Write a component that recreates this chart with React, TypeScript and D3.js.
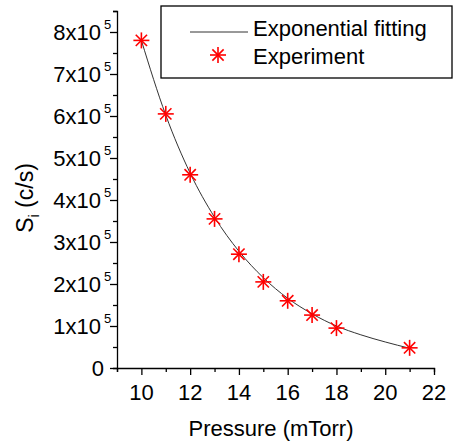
import { useEffect, useRef } from "react";
import * as d3 from "d3";

// measured points (pressure in mTorr, signal in c/s)
const pressure = [10, 11, 12, 13, 14, 15, 16, 17, 18, 21];
const signal = [7.8e5, 6.05e5, 4.6e5, 3.55e5, 2.71e5, 2.05e5, 1.6e5, 1.26e5, 0.95e5, 0.48e5];

// exponential fit
const fitX = [10, 11, 12, 13, 14, 15, 16, 17, 18, 19, 20, 21];
const fitY = [7.8e5, 6.02e5, 4.64e5, 3.59e5, 2.78e5, 2.15e5, 1.66e5, 1.29e5, 1.0e5, 0.79e5, 0.62e5, 0.47e5];

const xTicks = [10, 12, 14, 16, 18, 20, 22];
const yTicks = [0, 1, 2, 3, 4, 5, 6, 7, 8];

const W = 456;
const H = 442;
const FONT = "Liberation Sans, Arial, sans-serif";

export default function App() {
  const ref = useRef<SVGSVGElement>(null);

  useEffect(() => {
    const svg = d3.select(ref.current);
    svg.selectAll("*").remove();

    const left = 117;
    const right = 434;
    const top = 11;
    const bottom = 368;

    const x = d3.scaleLinear().domain([9, 22]).range([left, right]);
    const y = d3.scaleLinear().domain([0, 8.5e5]).range([bottom, top]);

    const g = svg.append("g").style("font-family", FONT);

    // x axis
    const xAxis = d3
      .axisBottom(x)
      .tickValues(d3.range(9, 22.01, 1))
      .tickSize(4)
      .tickFormat(() => "");
    const gx = g.append("g").attr("transform", `translate(0,${bottom})`).call(xAxis);
    gx.selectAll(".tick line")
      .attr("y2", (d: any) => (xTicks.includes(d) ? 7 : 4))
      .attr("stroke", "#000")
      .attr("stroke-width", 1.3);
    gx.select(".domain").attr("stroke", "#000").attr("stroke-width", 1.3);
    xTicks.forEach((t) => {
      g.append("text")
        .attr("x", x(t))
        .attr("y", bottom + 32)
        .attr("text-anchor", "middle")
        .attr("font-size", 22)
        .text(t);
    });

    // y axis
    const yAxis = d3
      .axisLeft(y)
      .tickValues(d3.range(0, 8.51e5, 0.5e5))
      .tickSize(4)
      .tickFormat(() => "");
    const gy = g.append("g").attr("transform", `translate(${left},0)`).call(yAxis);
    gy.selectAll(".tick line")
      .attr("x2", (d: any) => (Math.round(d / 1e5) * 1e5 === d ? -7 : -4))
      .attr("stroke", "#000")
      .attr("stroke-width", 1.3);
    gy.select(".domain").attr("stroke", "#000").attr("stroke-width", 1.3);
    yTicks.forEach((t) => {
      const ty = y(t * 1e5);
      if (t === 0) {
        g.append("text")
          .attr("x", 104)
          .attr("y", ty + 8)
          .attr("text-anchor", "end")
          .attr("font-size", 22)
          .text("0");
      } else {
        g.append("text")
          .attr("x", 101)
          .attr("y", ty + 8)
          .attr("text-anchor", "end")
          .attr("font-size", 22)
          .text(`${t}x10`);
        g.append("text")
          .attr("x", 104)
          .attr("y", ty - 3)
          .attr("font-size", 13)
          .text("5");
      }
    });

    // axis titles
    g.append("text")
      .attr("x", 271)
      .attr("y", 436)
      .attr("text-anchor", "middle")
      .attr("font-size", 22)
      .text("Pressure (mTorr)");

    const yt = g
      .append("text")
      .attr("transform", `translate(33,198) rotate(-90)`)
      .attr("text-anchor", "middle")
      .attr("font-size", 23);
    yt.append("tspan").text("S");
    yt.append("tspan").attr("font-size", 14).attr("dy", 6).text("i");
    yt.append("tspan").attr("dy", -6).text(" (c/s)");

    // fit line
    const line = d3
      .line<number>()
      .x((_, i) => x(fitX[i]))
      .y((d) => y(d))
      .curve(d3.curveMonotoneX);
    g.append("path")
      .datum(fitY)
      .attr("d", line)
      .attr("fill", "none")
      .attr("stroke", "#333")
      .attr("stroke-width", 1);

    // star marker
    const star = (sel: any, cx: number, cy: number, r: number) => {
      const gs = sel.append("g").attr("transform", `translate(${cx},${cy})`);
      [0, 45, 90, 135].forEach((a) => {
        const rad = (a * Math.PI) / 180;
        gs.append("line")
          .attr("x1", -r * Math.cos(rad))
          .attr("y1", -r * Math.sin(rad))
          .attr("x2", r * Math.cos(rad))
          .attr("y2", r * Math.sin(rad))
          .attr("stroke", "#ff0000")
          .attr("stroke-width", 1.6);
      });
    };

    pressure.forEach((p, i) => star(g, x(p), y(signal[i]), 8));

    // legend
    const lg = g.append("g");
    lg.append("rect")
      .attr("x", 161)
      .attr("y", 6)
      .attr("width", 291)
      .attr("height", 72)
      .attr("fill", "#fff")
      .attr("stroke", "#000")
      .attr("stroke-width", 1.3);
    lg.append("line")
      .attr("x1", 190)
      .attr("x2", 248)
      .attr("y1", 32)
      .attr("y2", 32)
      .attr("stroke", "#333")
      .attr("stroke-width", 1);
    lg.append("text").attr("x", 253).attr("y", 36).attr("font-size", 22).text("Exponential fitting");
    star(lg, 218, 55, 8);
    lg.append("text").attr("x", 253).attr("y", 64).attr("font-size", 22).text("Experiment");
  }, []);

  return (
    <svg
      ref={ref}
      width={W}
      height={H}
      style={{ position: "absolute", left: 0, top: 0, background: "#fff" }}
    />
  );
}
